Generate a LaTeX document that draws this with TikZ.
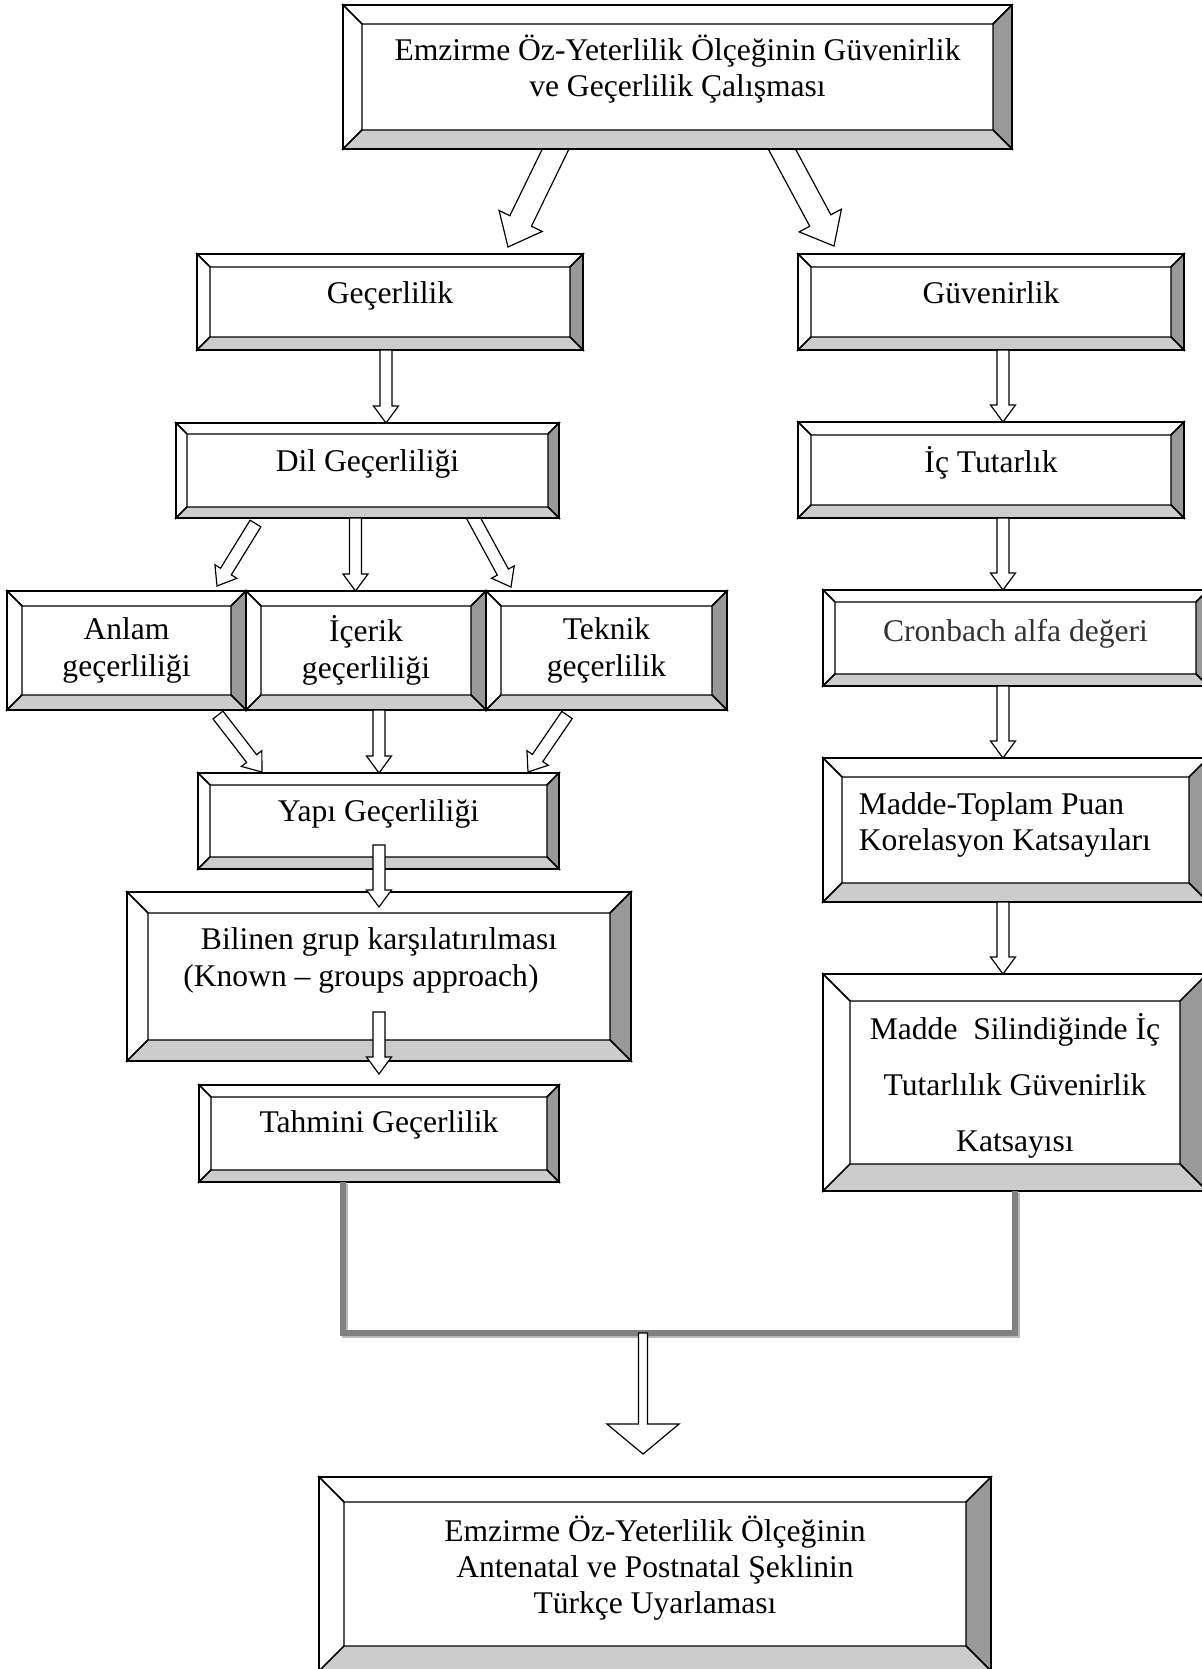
\documentclass[tikz,border=0pt]{standalone}
\usepackage{fontspec}
\setmainfont{Liberation Serif}
\usepackage{tikz}
\usetikzlibrary{calc}

\newcommand\px{0.38pt}
\definecolor{faceR}{gray}{0.6}
\definecolor{faceB}{gray}{0.8}
\definecolor{joinline}{gray}{0.5}

% hollow block arrow: from, to, half shaft, half head, head length
\newcommand\blockarrow[5]{%
  \coordinate (ba-s) at (#1);
  \coordinate (ba-t) at (#2);
  \coordinate (ba-h) at ($(ba-t)!#5!(ba-s)$);
  \draw[barrow] ($(ba-s)!#3!90:(ba-t)$) -- ($(ba-h)!#3!90:(ba-t)$)
    -- ($(ba-h)!#4!90:(ba-t)$) -- (ba-t) -- ($(ba-h)!#4!-90:(ba-t)$)
    -- ($(ba-h)!#3!-90:(ba-t)$) -- ($(ba-s)!#3!-90:(ba-t)$) -- cycle;
}

\begin{document}
\begin{tikzpicture}[
        x=\px,
        y=-\px,
        bbox/.style={rectangle, inner sep=0pt, outer sep=0pt, align=center, font=\fontsize{12pt}{13.8pt}\selectfont},
        boxsize/.style 2 args={minimum width=#1*\px, minimum height=#2*\px},
        face/.style={draw, line width=0.55pt, line join=miter},
        barrow/.style={draw, fill=white, line width=0.45pt, line join=miter},
        merge/.style={draw=joinline, line width=2.4pt, line join=miter}
    ]
        \useasboundingbox (0,0) rectangle (1202,1669);
        \clip (0,0) rectangle (1202,1669);

        \coordinate (lcol) at (379,0);
        \coordinate (rcol) at (1003,0);
        \coordinate (join) at (643,1333);

        \node[bbox, boxsize={669}{144}, text depth=8.7pt] (top) at (677.5,77) {Emzirme Öz-Yeterlilik Ölçeğinin Güvenirlik\\ve Geçerlilik Çalışması};

        \node[bbox, boxsize={386}{96}, text height=6.57pt, text depth=5.43pt] (gec) at (390,302) {Geçerlilik};
        \node[bbox, boxsize={386}{96}, text height=6.57pt, text depth=5.43pt] (guv) at (991,302) {Güvenirlik};

        \node[bbox, boxsize={383}{95}, text height=6.19pt, text depth=5.81pt] (dil) at (367.5,470.5) {Dil Geçerliliği};
        \node[bbox, boxsize={386}{96}, text height=6.95pt, text depth=5.05pt] (ic) at (991,470) {İç Tutarlık};

        \node[bbox, boxsize={239}{119}] (anlam) at (126.5,650.5) {Anlam\\geçerliliği};
        \node[bbox, boxsize={240}{119}] (icerik) at (366,650.5) {İçerik\\geçerliliği};
        \node[bbox, boxsize={241}{119}] (teknik) at (606.5,650.5) {Teknik\\geçerlilik};
        \node[bbox, boxsize={385}{96}, text height=7.33pt, text depth=4.67pt, text=black!80] (cron) at (1015.5,638) {Cronbach alfa değeri};

        \node[bbox, boxsize={361}{96}, text height=6pt, text depth=6pt] (yapi) at (378.5,821) {Yapı Geçerliliği};
        \node[bbox, boxsize={385}{144}, text width=119pt, align=flush left, text depth=20.1pt] (madde) at (1015.5,830) {Madde-Toplam Puan\\Korelasyon Katsayıları};

        \node[bbox, boxsize={504}{169}, text depth=14.8pt] (bilinen) at (379,976.5) {Bilinen grup karşılatırılması\\(Known – groups approach)\hspace*{13.7pt}};
        \node[bbox, boxsize={384}{217}, text depth=0pt, font=\fontsize{12pt}{21.3pt}\selectfont] (sil) at (1015,1082.5) {Madde\ \ Silindiğinde İç\\Tutarlılık Güvenirlik\\Katsayısı};

        \node[bbox, boxsize={360}{97}, text height=5.43pt, text depth=6.57pt] (tahmini) at (379,1133.5) {Tahmini Geçerlilik};

        \node[bbox, boxsize={672}{194}, text depth=7.2pt] (final) at (655,1574) {Emzirme Öz-Yeterlilik Ölçeğinin\\Antenatal ve Postnatal Şeklinin\\Türkçe Uyarlaması};

        % slanted arrows go under the bevels
        \blockarrow{$(top.south)+(-117.5,-9)$}{$(gec.north east)+(-75,-7)$}{4.56pt}{9.12pt}{11pt}
        \blockarrow{$(top.south)+(99.5,-9)$}{$(guv.north west)+(36,-8)$}{4.56pt}{9.12pt}{11pt}
        \blockarrow{$(dil.south west)+(79.5,5.5)$}{$(anlam.north east)+(-29,-5)$}{2.4pt}{4.9pt}{6.46pt}
        \blockarrow{$(dil.south east)+(-88,-4.5)$}{$(teknik.north west)+(25,-4)$}{2.4pt}{4.9pt}{6.46pt}
        \blockarrow{$(anlam.south east)+(-28,5)$}{$(yapi.north west)+(64,-1)$}{2.4pt}{4.9pt}{6.46pt}
        \blockarrow{$(teknik.south west)+(81,5)$}{$(yapi.north east)+(-31,-1)$}{2.4pt}{4.9pt}{6.46pt}

        \foreach \n/\b in {top/19, gec/13, guv/13, dil/11, ic/13, anlam/15, icerik/15, teknik/15,
                           cron/12, yapi/12, madde/19, bilinen/21, sil/27, tahmini/12, final/25}{
            \draw[face, fill=white] (\n.north west) -- (\n.north east) -- ($(\n.north east)+(-\b,\b)$) -- ($(\n.north west)+(\b,\b)$) -- cycle;
            \draw[face, fill=white] (\n.north west) -- ($(\n.north west)+(\b,\b)$) -- ($(\n.south west)+(\b,-\b)$) -- (\n.south west) -- cycle;
            \draw[face, fill=faceR] (\n.north east) -- ($(\n.north east)+(-\b,\b)$) -- ($(\n.south east)+(-\b,-\b)$) -- (\n.south east) -- cycle;
            \draw[face, fill=faceB] (\n.south west) -- (\n.south east) -- ($(\n.south east)+(-\b,-\b)$) -- ($(\n.south west)+(\b,-\b)$) -- cycle;
            \draw[line width=0.8pt] (\n.north west) rectangle (\n.south east);
        }

        % straight arrows
        \blockarrow{$(gec.south)+(-4,0)$}{$(dil.north)+(18.5,0)$}{2.28pt}{4.75pt}{6.46pt}
        \blockarrow{$(dil.south)+(-12,0)$}{$(icerik.north)+(-10.5,0)$}{2.28pt}{4.75pt}{6.46pt}
        \blockarrow{icerik.south -| lcol}{yapi.north -| lcol}{2.28pt}{4.75pt}{6.46pt}
        \blockarrow{$(yapi.south -| lcol)+(0,-24)$}{$(bilinen.north -| lcol)+(0,15)$}{2.28pt}{4.75pt}{6.46pt}
        \blockarrow{$(bilinen.south -| lcol)+(0,-49)$}{$(tahmini.north -| lcol)+(0,-11)$}{2.28pt}{4.75pt}{6.46pt}

        \blockarrow{guv.south -| rcol}{ic.north -| rcol}{2.28pt}{4.75pt}{6.46pt}
        \blockarrow{ic.south -| rcol}{cron.north -| rcol}{2.28pt}{4.75pt}{6.46pt}
        \blockarrow{cron.south -| rcol}{madde.north -| rcol}{2.28pt}{4.75pt}{6.46pt}
        \blockarrow{madde.south -| rcol}{sil.north -| rcol}{2.28pt}{4.75pt}{6.46pt}

        % gray merge line
        \draw[merge, draw=gray!55, transform canvas={xshift=0.7pt, yshift=-0.8pt}] ($(tahmini.south)+(-36,0)$) |- (join) -| (sil.south);
        \draw[merge] ($(tahmini.south)+(-36,0)$) |- (join) -| (sil.south);

        \blockarrow{join}{$(final.north -| join)+(0,-23)$}{1.71pt}{13.7pt}{11.4pt}
    \end{tikzpicture}
\end{document}
